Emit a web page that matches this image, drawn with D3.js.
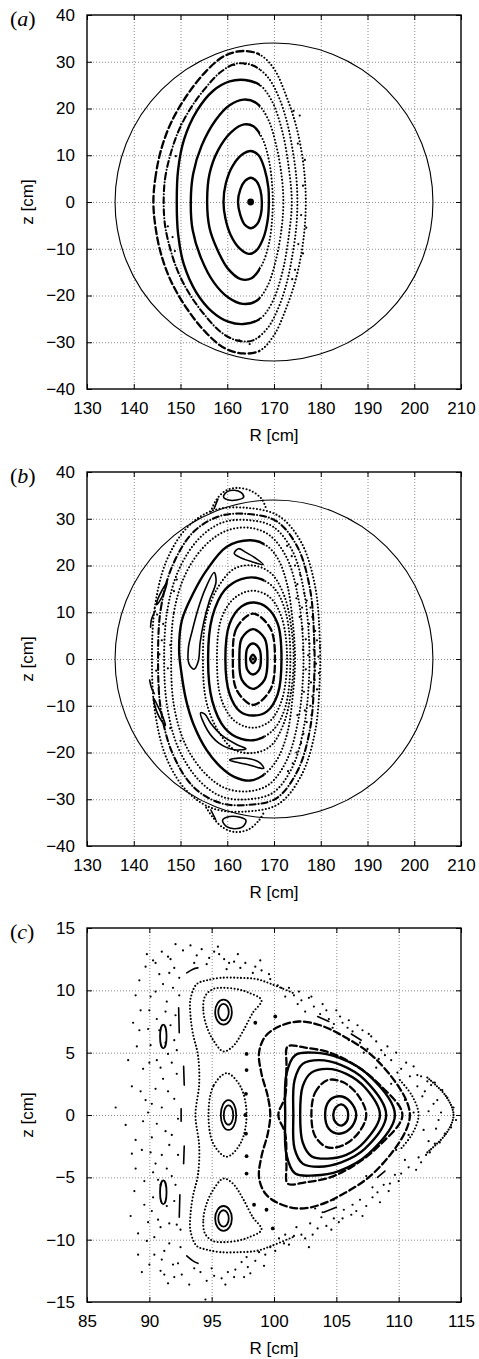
<!DOCTYPE html>
<html>
<head>
<meta charset="utf-8">
<script src="https://cdn.jsdelivr.net/npm/d3@7"></script>
<style>
  body { margin: 0; background: #fff; }
</style>
</head>
<body>
<svg id="fig" width="479" height="1359"></svg>
<script>
// ---------- axes ----------
const abXTicks = [130, 140, 150, 160, 170, 180, 190, 200, 210];
const abYTicks = [-40, -30, -20, -10, 0, 10, 20, 30, 40];
const cXTicks = [85, 90, 95, 100, 105, 110, 115];
const cYTicks = [-15, -10, -5, 0, 5, 10, 15];

// limiter circle (R centre, z centre, radius) for panels a and b
const wallCircle = [170, 0, 34];

// ---------- panel (a) ----------
const aAxis = [[165, 0]];
const aRing1 = [[162.3,0],[162.8,2.7],[163.8,4.5],[165.1,5.2],[166.3,4.4],[167.1,2.5],[167.4,0],[167.2,-2.6],[166.4,-4.7],[165.1,-5.6],[163.7,-4.8],[162.8,-2.8]];
const aRing2 = [[159.2,0],[159.7,4],[161.2,7.8],[163.4,10.3],[165,10.9],[166.7,10],[168,7],[168.8,3],[168.9,0],[168.7,-3.5],[167.8,-7.5],[166.2,-10.4],[164.6,-11.1],[162.7,-10],[160.7,-7],[159.6,-3.5]];
const aRing3 = [[155.7,0],[156.2,6],[158,11],[160.8,14.9],[163.6,16.6],[165.6,16.2],[167.5,13.6],[169,8.5],[169.7,2],[169.7,-2],[169,-8.5],[167.4,-13.5],[165.2,-16.3],[162.9,-16.5],[160.1,-14.2],[157.8,-10],[156.2,-5.5]];
const aRing4 = [[152.2,0],[152.7,6],[154.5,12],[157.5,17.5],[160.5,20.7],[163.5,21.9],[166.2,21.2],[168.6,18],[170.5,12],[171.7,5],[172,0],[171.7,-5],[170.5,-12],[168.6,-18],[166.2,-21.2],[163.3,-21.8],[160.3,-20.5],[157.2,-17.3],[154.4,-12],[152.6,-6]];
const aRing5 = [[149.2,0],[149.5,7],[150.8,13.5],[153.5,19.5],[157,23.8],[160.5,25.8],[163.8,26.1],[167,25],[169.6,21.5],[171.8,15],[173.2,7],[173.8,0],[173.2,-7],[171.8,-15],[169.6,-21.5],[167,-25],[163.5,-26.1],[160.2,-25.6],[156.8,-23.5],[153.3,-19.2],[150.7,-13.3],[149.5,-7]];
const aChain = [[146.4,0],[146.7,5],[147.8,10],[149.5,15],[152,19.8],[155.2,24.2],[158.6,27.8],[162,29.6],[165.5,29.2],[168.6,26.8],[171,22.5],[172.8,17],[174,11],[174.8,5],[175,0],[174.8,-5],[174,-11],[172.8,-17],[171,-22.5],[168.6,-27],[165.5,-29.6],[162,-29.6],[158.6,-27.8],[155.2,-24.2],[152,-19.8],[149.5,-15],[147.8,-10],[146.7,-5]];
const aRing6 = [[144.2,0],[144.6,5],[145.8,11],[148,17],[151.5,23],[155.5,28],[159.5,31.3],[163.5,32.3],[167,31.5],[170,28.5],[172.5,23],[174.8,16],[176.3,8],[176.8,0],[176.3,-8],[174.8,-16],[172.5,-23],[170,-28.5],[167,-31.8],[163.5,-32.4],[159.5,-31.3],[155.5,-28],[151.5,-23],[148,-17],[145.8,-11],[144.6,-5]];
const aScatter = [[175.5,18.5],[174.2,19.5],[176.6,9],[175.2,-9],[176.2,-11],[174.5,-14.5],[173.9,-16.5],[161.5,29.3],[163.8,29.5],[162.6,-29.6],[164.8,-30.4],[149,9.8],[148.3,-7.5],[147.3,-5.2],[150.1,16.6],[148.8,-10.5],[176.2,3.5],[175.8,-2.8],[175.1,12.5],[176.9,-5.5]];

// ---------- panel (b) ----------
const bAxis = [[165.5, 0]];
const bRing0 = [[164.9,0],[165.5,0.9],[166.1,0],[165.5,-0.9]];
const bRing1 = [[164.0,0],[164.3,2.3],[165.5,3.3],[166.8,2.3],[167.2,0],[166.8,-2.3],[165.5,-3.3],[164.3,-2.3]];
const bRing2 = [[162.6,0],[163.1,4.4],[165.5,6.4],[168,4.4],[168.6,0],[168,-4.4],[165.5,-6.4],[163.1,-4.4]];
const bRing3 = [[161.2,0],[162,6.6],[165.5,9.7],[169.2,6.6],[170.2,0],[169.2,-6.6],[165.5,-9.8],[162,-6.6]];
const bRing4 = [[159.6,0],[160.5,7.5],[163,11.2],[165.7,12.1],[168.5,11],[170.8,7.5],[171.6,0],[170.8,-7.5],[168.5,-11.2],[165.5,-12.1],[162.7,-11.2],[160.5,-7.5]];
const bRing5 = [[157.8,0],[158.7,8.5],[161.5,13],[165.3,14.6],[169,13.3],[171.6,9],[172.8,0],[171.6,-9],[169,-13.4],[165.3,-14.7],[161.5,-13.2],[158.7,-8.5]];
const bRing6 = [[155.9,0],[156.8,9],[159.5,14.8],[163,17.1],[166.5,17.3],[170,15.2],[172.5,10],[173.5,0],[172.5,-10],[170,-15],[166.5,-17.2],[163,-17.1],[159.5,-14.8],[156.8,-9]];
const bRing7 = [[154.8,0],[155.5,9],[158,15.3],[161.5,19.3],[165.5,20],[169.3,18.4],[172.2,13.5],[173.8,6],[174.2,0],[173.8,-6],[172.2,-13.5],[169.3,-18.6],[165.5,-20.1],[161.5,-19.4],[158,-15.3],[155.5,-9]];
const bSep = [[149.7,2],[150.3,8.3],[152.7,14],[155.6,19],[159.9,24],[164.9,25.4],[168.2,24.4],[170.8,21.5],[172.8,16],[174,8],[174.5,0],[174,-8],[172.8,-16],[170.5,-21.8],[167.5,-25],[164.9,-26],[161.5,-25.2],[158.5,-23],[155.6,-19.5],[152.8,-14],[151.2,-8.8],[150.2,-3]];
const bRing8 = [[148,0],[148.6,10],[151,18],[155,24],[159.5,27.3],[164.5,28.1],[169,26.5],[172.8,21.5],[175.2,13],[176.2,4],[176.2,-4],[175.2,-13],[172.8,-21.5],[169,-26.8],[164.5,-28.3],[159.5,-27.6],[155,-24.2],[151,-18.2],[148.6,-10]];
const bRing9 = [[146.5,0],[147.2,10.5],[149.6,19],[154,25.8],[159,29.2],[164.5,29.7],[169.8,28.3],[174,23],[176.5,14],[177.5,4],[177.5,-4],[176.5,-14],[174,-23],[169.8,-28.6],[164.5,-30],[159,-29.5],[154,-26],[149.6,-19.2],[147.2,-10.5]];
const bRing10 = [[145.2,0],[145.8,10.8],[148.3,20],[152.8,27.2],[158.5,30.6],[164.5,31],[170.5,29.5],[175,24],[177.7,15],[178.6,4],[178.6,-4],[177.7,-15],[175,-24],[170.5,-29.8],[164.5,-31.2],[158.5,-30.8],[152.8,-27.4],[148.3,-20.2],[145.8,-10.8]];
const bRing11 = [[143.9,0],[144.5,11],[147,21],[151.5,28.2],[157,31.8],[164.5,32.3],[171,30.6],[175.8,25],[178.8,15.5],[179.8,4],[179.8,-4],[178.8,-15.5],[175.8,-25],[171,-31],[164.5,-32.6],[157,-32],[151.5,-28.4],[147,-21.2],[144.5,-11]];
const bHookT = [[162.4,23.6],[161.5,22.6],[162.6,21.8],[165,20.9],[167.7,20.2],[166,21.6],[164,22.8]];
const bHookL = [[157.2,18.5],[155.3,15],[153.7,10.5],[152.5,6],[151.7,2.5],[151.8,-1],[152.9,-2.2],[153.8,-0.5],[154.2,3.5],[155,8],[156.2,12.5],[157.6,16.5]];
const bHookLL = [[154.3,-11.5],[155.2,-11.8],[156.5,-13.8],[158.8,-16.3],[162,-18.3],[164,-19.2],[161.5,-19.4],[158.2,-18],[155.8,-15.3]];
const bHookB = [[160.5,-21.6],[162.5,-21.2],[165,-21.4],[167,-22.2],[167.8,-23.4],[166.5,-23.2],[164.5,-22.6],[162.5,-22.2]];
const bIslandTop = [[159.2,34.7],[160,35.8],[161.5,36.1],[163,35.6],[163.5,34.6],[162,34],[160.3,34]];
const bIslandBot = [[159,-34.5],[160.5,-33.7],[162.5,-33.8],[164,-34.5],[163.4,-35.8],[161.5,-36.3],[159.8,-35.8]];
const bIslandL1 = [[147.1,16.3],[146.6,14.5],[145.6,12.5],[144.9,11.6],[145.1,12.7],[146,14.6]];
const bIslandL2 = [[144.2,-8.3],[145.2,-10.2],[146.3,-12.6],[146.8,-14.2],[146.0,-13.3],[144.9,-11.2]];
const bTopSep = [[156.5,31.5],[157.5,33.8],[159.5,35.9],[162,36.6],[165,36],[167.3,34.3],[168.2,32.5]];
const bBotSep = [[155.5,-31.8],[157,-34],[159,-36],[161.5,-37],[164.5,-36.5],[166.8,-34.5],[168,-32.5]];
const bArcs = [[[144.6,10.3],[143.8,8.5],[143.6,6.8]], [[143.4,-4.5],[143.8,-6.2],[144.4,-7.4]], [[157.2,32.2],[158,34.2]], [[156.5,-32.3],[157.5,-34.3]]];
const bScatter = [[176.5,14],[177,12.5],[177.8,11],[178.2,9],[177.5,7.5],[178.8,6],[179.2,4],[179.8,2.5],[179.5,0.5],[179,-1],[179.6,-3],[178.7,-4.5],[179.2,-6.5],[178.2,-8],[177.8,-10],[178,-12],[177,-13.5],[176.3,-16],[175.8,-18],[174.8,-20],[176.8,4.2],[176.2,2],[177.3,0.8],[176.8,-2.2],[177.9,-5],[176.4,-7],[175.5,9],[176,11],[175,16],[175.6,18],[174.5,20],[173.8,22],[172.8,24.2],[174,-22.3],[173,-24],[178.5,2],[177,9.8],[174.8,13],[175,-12],[176.6,-11],[178.8,-2.5],[177.6,3.3],[176.1,6.5],[146,4],[145.5,1],[147.3,-2],[144.8,-2.5],[146.3,7.5],[147.8,3],[145.4,-6],[148.6,14.5],[147.8,-14.8],[150,-17.5],[149.2,17],[145,9.5]];

// ---------- panel (c) ----------
const cRing1 = [[104.75,0],[104.95,0.6],[105.4,0.85],[105.85,0.5],[105.95,0],[105.85,-0.5],[105.4,-0.85],[104.95,-0.6]];
const cRing2 = [[104.1,0],[104.4,1.1],[105.2,1.5],[106.1,1.1],[106.6,0],[106.1,-1.1],[105.2,-1.5],[104.4,-1.1]];
const cRing3 = [[103,0],[103.3,1.8],[104.3,2.8],[105.6,2.6],[106.8,1.5],[107.4,0],[106.8,-1.4],[105.6,-2.4],[104.3,-2.6],[103.3,-1.7]];
const cRing4 = [[102.1,0],[102.3,2.3],[103,3.4],[104.3,3.7],[105.8,3.3],[107.3,2.2],[108.5,0],[107.3,-2.1],[105.8,-3.2],[104.3,-3.5],[103,-3.3],[102.3,-2.2]];
const cRing5 = [[101.55,0],[101.65,2.8],[102.3,4.1],[103.6,4.4],[105.4,4],[107.3,2.8],[109,0],[107.3,-2.7],[105.4,-3.8],[103.6,-4.15],[102.3,-3.9],[101.65,-2.7]];
const cRing6 = [[100.9,0],[101,3.3],[101.7,4.8],[103.2,5.0],[105.2,4.6],[107.6,3.2],[109.7,0],[107.6,-3.1],[105.2,-4.5],[103.2,-4.85],[101.7,-4.7],[101,-3.2]];
const cRing7 = [[100.35,0],[100.9,1.5],[101.0,4],[101.1,5.5],[102.5,5.4],[104.5,5.0],[106.5,4.0],[108.5,2.4],[110.3,0],[108.5,-2.4],[106.5,-4.0],[104.5,-5.0],[102.5,-5.4],[101.1,-5.5],[101,-4],[100.9,-1.5]];
const cRing8 = [[99.7,0],[99.5,1.5],[99.0,3.3],[98.8,5],[99.3,6.3],[100.4,7.1],[102,7.5],[103.7,7.2],[105.6,6.3],[107.6,5],[109.4,3.1],[110.6,1.2],[110.9,0],[110.6,-1.2],[109.4,-3.1],[107.6,-5],[105.6,-6.3],[103.7,-7.2],[102,-7.5],[100.4,-7.1],[99.3,-6.3],[98.8,-5],[99.0,-3.3],[99.5,-1.5]];
const cLobeTop = [[94.46,9.5],[94.33,8.4],[94.6,7.1],[95.13,6],[95.93,5.1],[96.7,5.5],[97.5,6.7],[98.3,8.2],[99.0,9.2],[98.0,9.8],[97,10.1],[95.9,10.2],[95.1,10.1]];
const cLobeMid = [[96.2,3.35],[95.13,2.3],[94.75,0],[95.13,-2.3],[96.2,-3.35],[97.3,-2.3],[97.8,0],[97.3,2.3]];
const cLobeBot = [[94.46,-9.5],[94.33,-8.4],[94.6,-7.1],[95.13,-6],[95.93,-5.1],[96.7,-5.5],[97.5,-6.7],[98.3,-8.2],[99.0,-9.2],[98.0,-9.8],[97,-10.1],[95.9,-10.2],[95.1,-10.1]];
const cSepOuter = [[101.5,9.8],[99.8,10.5],[98.6,10.9],[97.3,11.0],[95.7,11.0],[94.6,10.8],[93.8,10.5],[93.3,9.3],[93.3,8],[93.5,6.5],[93.9,4.8],[94.0,2.5],[93.7,0],[94.0,-2.5],[93.9,-4.8],[93.5,-6.5],[93.3,-8],[93.3,-9.3],[93.8,-10.5],[94.6,-10.8],[95.7,-11.0],[97.3,-11.0],[98.6,-10.9],[99.8,-10.5],[101.5,-9.8]];
const cTipIn = [[110.1,2.8],[111.1,1.5],[111.6,0],[111.1,-1.5],[110.1,-2.8]];
const cTipOut = [[112.3,3.0],[113.8,1.5],[114.4,0],[113.8,-1.5],[112.3,-3.0]];
const cDashes = [[[92.35,8.6],[92.4,6.6]], [[92.75,3.9],[92.8,2.4]], [[92.55,0.5],[92.55,-0.5]], [[92.8,-2.5],[92.75,-3.9]], [[92.45,-6.4],[92.4,-8.2]], [[93.0,11.4],[93.5,11.7],[93.9,11.8]], [[93.0,-11.3],[93.5,-11.7],[93.9,-11.9]], [[103.5,7.9],[104.4,7.5]], [[106.2,6.5],[107,6]], [[104,-7.8],[105,-7.4]], [[108.3,-5],[108.9,-4.5]]];
// small islands: [R centre, z centre, half-width R, half-height z]
const cIslands = [[95.95,8.25,0.67,1.0],[95.95,8.25,0.42,0.66],[96.35,0,0.62,1.2],[96.35,0,0.38,0.78],[95.95,-8.3,0.67,1.0],[95.95,-8.3,0.42,0.66],[91.12,6.3,0.26,0.95],[91.12,-6.2,0.26,0.95]];
const cBigDots = [[97.8,4.9],[97.8,3.6],[97.75,1.7],[97.7,0],[97.75,-1.5],[97.8,-3.3],[97.8,-4.7],[98.5,7.4],[98.4,-7.2],[99.4,-7.6],[100.1,7.9],[99.9,-9.1]];
// stochastic halo, left side
const cHaloLeft = [[87.3,0.6],[88.1,-0.8],[88.6,2.3],[88.5,-8.1],[88.8,-6.1],[88.9,-4.3],[89.0,5.5],[89.1,-9.5],[89.2,10.8],[89.3,8.4],[89.4,-2.8],[89.5,3.7],[89.6,-7.2],[89.7,1.2],[89.8,12.9],[89.8,-10.1],[89.9,6.9],[90.0,-12.0],[90.1,9.5],[90.0,4.2],[90.2,-1.8],[90.3,-6.6],[90.3,-4.6],[90.4,-11.2],[90.5,2.1],[90.6,4.4],[90.5,-3.9],[90.6,7.7],[90.8,11.3],[90.7,-8.4],[90.9,-9.0],[91.0,0.6],[91.1,2.9],[91.2,-12.8],[91.3,-1.3],[91.4,9.1],[91.5,4.9],[91.6,-2.4],[91.6,-10.3],[91.7,12.5],[91.8,4.2],[91.8,-4.9],[91.9,10.2],[92.0,1.3],[92.0,-6.9],[92.1,8.0],[92.2,-8.8],[92.3,-11.9],[92.2,3.3],[92.3,-3.2],[92.4,11.0],[92.5,-10.6],[92.0,6.0],[89.9,0.2],[90.9,-5.6],[91.3,5.8],[89.4,-12.6],[90.3,12.4],[88.9,9.6],[91.4,-7.3],
  [88.3,4.4],[88.7,7.4],[88.9,-2.0],[89.1,-11.2],[89.3,1.9],[89.6,-5.3],[89.7,11.9],[89.9,-8.6],[90.1,5.6],[90.2,0.9],[90.4,-9.8],[90.5,9.9],[90.6,-0.7],[90.7,-5.2],[90.8,6.8],[90.9,3.8],[91.0,-3.2],[91.1,10.5],[91.2,-10.9],[91.3,8.3],[91.4,-4.3],[91.5,1.9],[91.6,-8.7],[91.7,7.2],[91.8,-1.6],[91.9,-12.0],[92.0,11.8],[92.1,-5.6],[92.2,5.2],[92.3,-0.3],[92.4,9.6],[92.5,-9.2],[89.5,-0.5],[88.6,-3.1],[90.1,-3.0],[89.2,6.8],[90.0,8.4],[91.6,11.4],[90.2,-7.7],[91.0,-11.6]];
// stochastic halo, upper band
const cHaloTop = [[90.5,12.2],[91.0,13.1],[91.5,12.7],[92.1,13.7],[92.7,13.2],[93.3,13.6],[93.8,12.8],[94.2,13.3],[94.8,12.6],[95.2,13.1],[95.6,12.9],[96.0,12.5],[96.4,12.2],[96.8,12.3],[97.3,11.8],[97.7,12.2],[98.3,11.4],[98.5,11.9],[99.0,11.6],[94.6,12.1],[93.6,12.2],
  [99.7,10.9],[100.3,10.4],[100.6,10.2],[101.2,10.2],[101.6,9.6],[102.0,9.9],[102.2,9.2],[102.8,9.4],[103.2,8.7],[103.7,8.1],[104.2,8.4],[104.4,7.7],[105.0,8.4],[105.5,7.4],[105.9,7.0],[106.3,6.7],[106.7,7.2],[107.1,6.8],[107.5,5.3],[107.8,6.3],[108.2,5.9],[108.6,5.2],[108.9,4.8],[109.4,4.4],[109.8,5.0],[110.2,3.7],[110.6,4.2],[111.2,3.9],[111.5,3.2],[111.8,3.1],[112.3,2.7],[112.6,2.4],[113.1,1.2],[113.5,2.0],[113.9,1.4],[114.4,0.6],[114.6,-0.4],[114.2,-1.0],
  [100.9,9.5],[101.9,8.9],[103.0,9.5],[103.9,8.9],[104.7,7.0],[105.3,7.9],[106.0,7.6],[106.9,5.8],[107.6,6.5],[108.4,4.5],[109.1,5.5],[109.9,3.4],[110.9,3.1],[111.5,2.3],[112.1,1.9],[112.9,2.6],[113.4,0.2],[98.9,12.4],[97.1,12.9],[95.5,13.5],[96.2,11.7],[99.6,11.3],[102.5,8.3]];
// stochastic halo, lower band
const cHaloBottom = [[113.7,-1.5],[113.3,-2.2],[112.9,-2.3],[112.5,-3.0],[112.2,-3.2],[111.8,-3.8],[111.4,-4.4],[110.5,-3.6],[110.2,-4.7],[109.7,-4.8],[109.3,-5.5],[108.8,-5.6],[108.3,-6.2],[107.9,-5.8],[107.4,-7.3],[106.9,-6.8],[106.6,-7.7],[106.2,-8.0],[105.6,-7.6],[105.2,-8.6],[104.8,-8.3],[104.2,-8.9],[103.8,-8.2],[103.5,-9.1],[102.9,-8.7],[102.5,-9.9],[102.2,-9.6],[101.6,-9.7],[101.2,-10.4],[100.8,-10.3],[100.4,-9.9],[100.1,-10.9],[99.7,-10.6],[99.3,-11.2],[98.8,-11.0],[98.5,-11.7],[97.9,-12.2],[97.4,-11.8],[96.9,-12.4],[96.3,-12.6],[95.8,-13.1],[95.2,-12.9],[94.6,-13.3],[94.1,-12.6],[93.6,-12.3],[93.2,-13.6],[92.6,-12.8],[92.0,-13.0],[91.5,-13.5],[90.9,-12.5],[94.5,-14.8],[96.8,-13.0],[98.1,-12.7],
  [100.9,-9.6],[101.8,-9.0],[103.1,-9.6],[103.9,-7.8],[104.6,-9.2],[105.5,-8.3],[106.3,-7.2],[107.1,-8.1],[107.9,-6.6],[108.5,-7.0],[109.2,-6.1],[110.0,-5.3],[110.8,-4.2],[111.6,-3.4],[112.4,-2.1],[113.0,-1.1],[99.2,-12.1],[97.6,-13.0],[96.1,-13.6],[95.0,-12.3],[97.8,-11.4],[102.8,-10.6]];
// stochastic points inside, around the triangle
const cHaloInner = [[104.8,7.3],[106,6],[107.2,5],[108.2,3.8],[109.4,2.5],[110.5,1.2],[111.2,0.2],[110.8,-1.6],[109.8,-2.8],[108.7,-3.9],[107.4,-4.9],[106.1,-6.0],[104.8,-6.8],[103.3,-7.5],[111.9,1.5],[112.4,0.3],[112.0,-1.2],[113.2,-0.4],[112.8,0.9]];

// ---------- drawing ----------
const svg = d3.select('#fig');
const defs = svg.append('defs');
const plotLeft = 87, plotSize = 374;
const panelTop = [15, 472, 928];
const tickFont = '"Liberation Sans", Arial, Helvetica, sans-serif';

const styleDefs = {
  solid:   { w: 2.4, dash: null },
  thin:    { w: 1.6, dash: null },
  dot:     { w: 2.1, dash: '0 3.4' },
  dense:   { w: 2.2, dash: '0 2.6' },
  dash:    { w: 2.3, dash: '7 3.5' },
  dashdot: { w: 2.1, dash: '6 3 0 3' }
};

function makePanel(i, label, xDom, yDom, xTicks, yTicks, split) {
  const top = panelTop[i];
  const x = d3.scaleLinear().domain(xDom).range([plotLeft, plotLeft + plotSize]);
  const y = d3.scaleLinear().domain(yDom).range([top + plotSize, top]);
  const id = 'p' + i;

  defs.append('clipPath').attr('id', id + '-area').append('rect')
    .attr('x', plotLeft).attr('y', top).attr('width', plotSize).attr('height', plotSize);
  defs.append('clipPath').attr('id', id + '-l').append('rect')
    .attr('x', 0).attr('y', 0).attr('width', x(split)).attr('height', 1359);
  defs.append('clipPath').attr('id', id + '-r').append('rect')
    .attr('x', x(split)).attr('y', 0).attr('width', 479).attr('height', 1359);

  // dotted grid
  const grid = svg.append('g');
  grid.append('g').attr('transform', `translate(0,${top + plotSize})`)
    .call(d3.axisBottom(x).tickValues(xTicks.slice(1, -1)).tickSize(-plotSize).tickFormat(''));
  grid.append('g').attr('transform', `translate(${plotLeft},0)`)
    .call(d3.axisLeft(y).tickValues(yTicks.slice(1, -1)).tickSize(-plotSize).tickFormat(''));
  grid.selectAll('.domain').remove();
  grid.selectAll('line').attr('stroke', '#8a8a8a').attr('stroke-width', 1).attr('stroke-dasharray', '1,2');

  // inward ticks on all four sides
  const ticks = svg.append('g');
  ticks.append('g').attr('transform', `translate(0,${top + plotSize})`).call(d3.axisBottom(x).tickValues(xTicks).tickSize(-5).tickFormat(''));
  ticks.append('g').attr('transform', `translate(0,${top})`).call(d3.axisTop(x).tickValues(xTicks).tickSize(-5).tickFormat(''));
  ticks.append('g').attr('transform', `translate(${plotLeft},0)`).call(d3.axisLeft(y).tickValues(yTicks).tickSize(-5).tickFormat(''));
  ticks.append('g').attr('transform', `translate(${plotLeft + plotSize},0)`).call(d3.axisRight(y).tickValues(yTicks).tickSize(-5).tickFormat(''));
  ticks.selectAll('.domain').remove();
  ticks.selectAll('line').attr('stroke', '#000');

  // tick labels
  const xl = svg.append('g').attr('transform', `translate(0,${top + plotSize})`)
    .call(d3.axisBottom(x).tickValues(xTicks).tickSize(0).tickPadding(13).tickFormat(d3.format('d')));
  const yl = svg.append('g').attr('transform', `translate(${plotLeft},0)`)
    .call(d3.axisLeft(y).tickValues(yTicks).tickSize(0).tickPadding(12).tickFormat(d3.format('d')));
  [xl, yl].forEach(g => {
    g.select('.domain').remove();
    g.attr('font-size', 17).attr('font-family', tickFont);
    g.selectAll('text').attr('fill', '#000');
  });

  // axis titles
  svg.append('text').attr('x', plotLeft + plotSize / 2).attr('y', top + plotSize + 52)
    .attr('text-anchor', 'middle').attr('font-size', 17).attr('font-family', tickFont).text('R [cm]');
  svg.append('text').attr('transform', `translate(33,${top + plotSize / 2}) rotate(-90)`)
    .attr('text-anchor', 'middle').attr('font-size', 17).attr('font-family', tickFont).text('z [cm]');

  // panel letter
  const lt = svg.append('text').attr('x', 10).attr('y', top + 11)
    .attr('font-size', 22).attr('font-family', '"Liberation Serif", "Times New Roman", serif');
  lt.append('tspan').text('(');
  lt.append('tspan').attr('font-style', 'italic').text(label);
  lt.append('tspan').text(')');

  const plot = svg.append('g').attr('clip-path', `url(#${id}-area)`);
  return { x, y, id, plot, top };
}

function drawCurve(p, pts, style, closed) {
  const line = d3.line().x(d => p.x(d[0])).y(d => p.y(d[1]))
    .curve(closed ? d3.curveCatmullRomClosed.alpha(0.5) : d3.curveCatmullRom.alpha(0.5));
  const parts = style.split('|');
  parts.forEach((s, k) => {
    const def = styleDefs[s];
    const path = p.plot.append('path').attr('d', line(pts))
      .attr('fill', 'none').attr('stroke', '#000')
      .attr('stroke-width', def.w).attr('stroke-linecap', 'round').attr('stroke-linejoin', 'round');
    if (def.dash) path.attr('stroke-dasharray', def.dash);
    if (parts.length > 1) {
      p.plot.append('g').attr('clip-path', `url(#${p.id}-${k ? 'r' : 'l'})`).node().appendChild(path.node());
    }
  });
}

function drawDots(p, pts, r) {
  p.plot.append('g').selectAll('circle').data(pts).join('circle')
    .attr('cx', d => p.x(d[0])).attr('cy', d => p.y(d[1])).attr('r', r).attr('fill', '#000');
}

function drawWall(p) {
  p.plot.append('ellipse')
    .attr('cx', p.x(wallCircle[0])).attr('cy', p.y(wallCircle[1]))
    .attr('rx', p.x(wallCircle[0] + wallCircle[2]) - p.x(wallCircle[0]))
    .attr('ry', p.y(wallCircle[1]) - p.y(wallCircle[1] + wallCircle[2]))
    .attr('fill', 'none').attr('stroke', '#000').attr('stroke-width', 1.1);
}

function drawFrame(p) {
  svg.append('rect').attr('x', plotLeft).attr('y', p.top).attr('width', plotSize).attr('height', plotSize)
    .attr('fill', 'none').attr('stroke', '#000').attr('stroke-width', 1.4);
}

// panel (a)
const pa = makePanel(0, 'a', [130, 210], [-40, 40], abXTicks, abYTicks, 167);
drawWall(pa);
drawCurve(pa, aRing1, 'solid', true);
drawCurve(pa, aRing2, 'solid', true);
drawCurve(pa, aRing3, 'solid|dot', true);
drawCurve(pa, aRing4, 'solid|dot', true);
drawCurve(pa, aRing5, 'solid|dot', true);
drawCurve(pa, aChain, 'dashdot|dot', true);
drawCurve(pa, aRing6, 'dash|dot', true);
drawDots(pa, aScatter, 1.1);
drawDots(pa, aAxis, 3.4);
drawFrame(pa);

// panel (b)
const pb = makePanel(1, 'b', [130, 210], [-40, 40], abXTicks, abYTicks, 168);
drawWall(pb);
[bRing0, bRing1, bRing2, bRing4].forEach(r => drawCurve(pb, r, 'solid', true));
drawCurve(pb, bRing3, 'dash', true);
drawCurve(pb, bRing5, 'dot', true);
drawCurve(pb, bRing6, 'solid|dot', true);
drawCurve(pb, bRing7, 'dot', true);
drawCurve(pb, bSep, 'solid|dot', true);
drawCurve(pb, bRing8, 'dot', true);
drawCurve(pb, bRing9, 'dot', true);
drawCurve(pb, bRing10, 'dashdot', true);
drawCurve(pb, bRing11, 'dot', true);
[bHookT, bHookL, bHookLL, bHookB, bIslandTop, bIslandBot, bIslandL1, bIslandL2].forEach(r => drawCurve(pb, r, 'thin', true));
drawCurve(pb, bTopSep, 'dot', false);
drawCurve(pb, bBotSep, 'dot', false);
bArcs.forEach(r => drawCurve(pb, r, 'thin', false));
drawDots(pb, bScatter, 1.1);
drawDots(pb, bAxis, 1.6);
drawFrame(pb);

// panel (c)
const pc = makePanel(2, 'c', [85, 115], [-15, 15], cXTicks, cYTicks, 100);
[cRing1, cRing2, cRing4, cRing5, cRing6].forEach(r => drawCurve(pc, r, 'solid', true));
drawCurve(pc, cRing3, 'dash', true);
drawCurve(pc, cRing7, 'dash', true);
drawCurve(pc, cRing8, 'dash', true);
[cLobeTop, cLobeMid, cLobeBot].forEach(r => drawCurve(pc, r, 'dot', true));
drawCurve(pc, cSepOuter, 'dot', false);
drawCurve(pc, cTipIn, 'dot', false);
drawCurve(pc, cTipOut, 'dense', false);
cDashes.forEach(r => drawCurve(pc, r, 'thin', false));
pc.plot.append('g').selectAll('ellipse').data(cIslands).join('ellipse')
  .attr('cx', d => pc.x(d[0])).attr('cy', d => pc.y(d[1]))
  .attr('rx', d => pc.x(d[0] + d[2]) - pc.x(d[0]))
  .attr('ry', d => pc.y(d[1]) - pc.y(d[1] + d[3]))
  .attr('fill', 'none').attr('stroke', '#000').attr('stroke-width', 1.8);
drawDots(pc, cBigDots, 1.9);
[cHaloLeft, cHaloTop, cHaloBottom, cHaloInner].forEach(h => drawDots(pc, h, 1.1));
drawFrame(pc);
</script>
</body>
</html>
